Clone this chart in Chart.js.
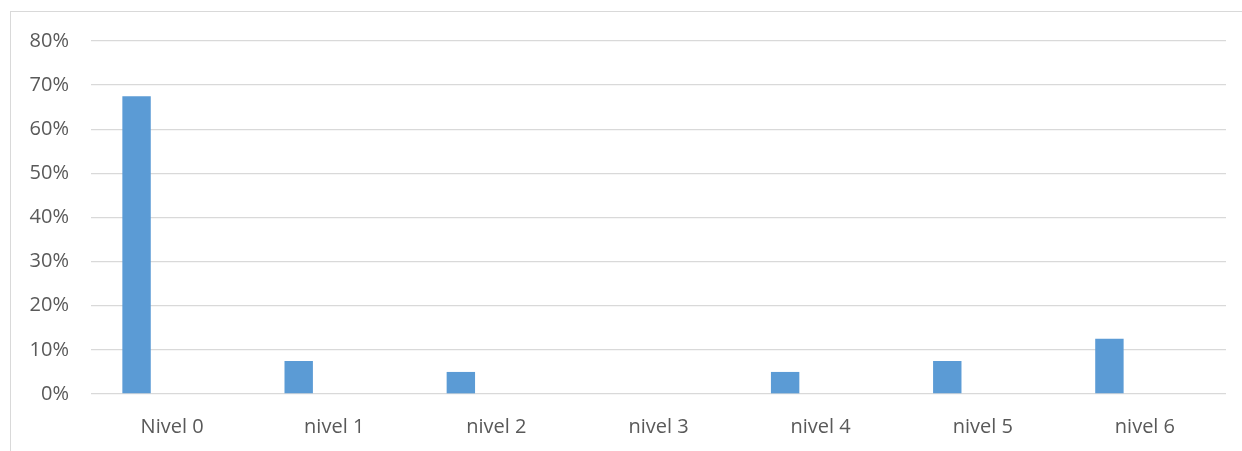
<!DOCTYPE html>
<html>
<head>
<meta charset="utf-8">
<script src="https://cdn.jsdelivr.net/npm/chart.js@4/dist/chart.umd.min.js"></script>
<style>
  html, body { margin: 0; padding: 0; background: #fff; }
  #wrap { position: relative; width: 1242px; height: 451px; overflow: hidden; }
  #frame {
    position: absolute; left: 10px; top: 11px; width: 1300px; height: 500px;
    border-left: 1px solid #d9d9d9; border-top: 1px solid #d9d9d9;
    pointer-events: none;
  }
  canvas { position: absolute; left: 0; top: 0; }
</style>
</head>
<body>
<div id="wrap">
  <div id="frame"></div>
  <canvas id="chart" width="1242" height="451"></canvas>
</div>
<script>
  /* ───────── DATA ───────── */
  const categories = ["Nivel 0", "nivel 1", "nivel 2", "nivel 3", "nivel 4", "nivel 5", "nivel 6"];
  const seriesValues = [67.5, 7.5, 5, 0, 5, 7.5, 12.5];
  const emptySeries = [null, null, null, null, null, null, null];
  const yTicks = [0, 10, 20, 30, 40, 50, 60, 70, 80];

  const gridColor = "#d9d9d9";
  const textColor = "#595959";

  new Chart(document.getElementById("chart").getContext("2d"), {
    type: "bar",
    data: {
      labels: categories,
      datasets: [
        { data: seriesValues, backgroundColor: "#5b9bd5", barPercentage: 0.4, categoryPercentage: 0.876 },
        { data: emptySeries, backgroundColor: "#ed7d31", barPercentage: 0.4, categoryPercentage: 0.876 }
      ]
    },
    options: {
      responsive: false,
      animation: false,
      layout: { padding: { top: 41, right: 16, bottom: 0, left: 0 } },
      plugins: { legend: { display: false }, tooltip: { enabled: false } },
      scales: {
        x: {
          grid: { display: false },
          border: { display: false },
          ticks: { color: textColor, font: { family: "Open Sans", size: 20 }, padding: 13, maxRotation: 0 },
          afterFit: s => { s.height = 57; }
        },
        y: {
          min: yTicks[0],
          max: yTicks[yTicks.length - 1],
          afterBuildTicks: s => { s.ticks = yTicks.map(v => ({ value: v })); },
          grid: { color: gridColor, lineWidth: 1.3, drawTicks: false },
          border: { display: false },
          ticks: { color: textColor, font: { family: "Open Sans", size: 20 }, padding: 22, callback: v => v + "%" },
          afterFit: s => { s.width = 91; }
        }
      }
    }
  });
</script>
</body>
</html>
